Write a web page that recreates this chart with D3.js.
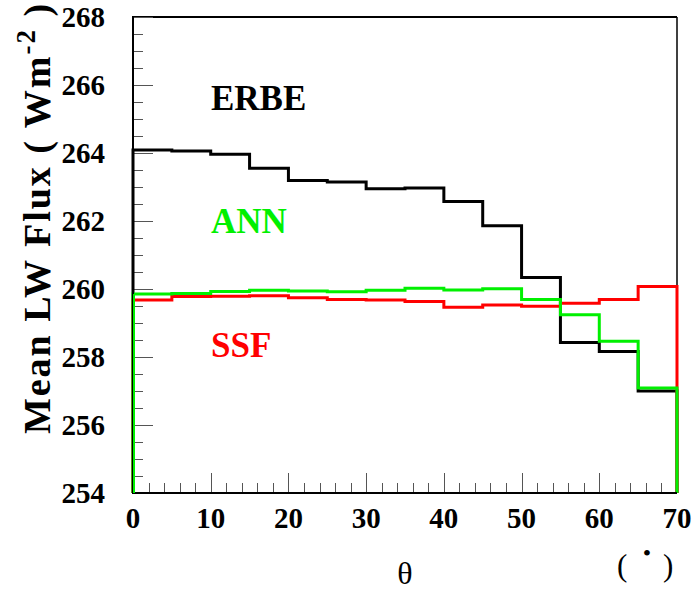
<!DOCTYPE html>
<html>
<head>
<meta charset="utf-8">
<script src="https://cdn.jsdelivr.net/npm/d3@7"></script>
<style>
  body { margin: 0; background: #fff; }
  text { font-family: "Liberation Serif", "Times New Roman", serif; }
</style>
</head>
<body>
<svg id="chart"></svg>
<script>
// bin edges (degrees), 5 degree bins
const binEdges = [0, 5, 10, 15, 20, 25, 30, 35, 40, 45, 50, 55, 60, 65, 70];
const erbe = [264.09, 264.06, 263.96, 263.55, 263.19, 263.15, 262.95, 262.97, 262.57, 261.86, 260.34, 258.43, 258.16, 257.00];
const ann  = [259.85, 259.87, 259.93, 259.96, 259.94, 259.92, 259.96, 260.02, 259.97, 260.01, 259.69, 259.24, 258.46, 257.09];
const ssf  = [259.68, 259.78, 259.79, 259.80, 259.74, 259.69, 259.68, 259.63, 259.46, 259.53, 259.49, 259.58, 259.69, 260.07];
const yTicks = [254, 256, 258, 260, 262, 264, 266, 268];
const xTicks = [0, 10, 20, 30, 40, 50, 60, 70];

const width = 695;
const height = 591;
const pLeft = 133, pRight = 677, pTop = 17, pBottom = 493;
const green = "#00f000";

let svg = d3.select("#chart").attr("width", width).attr("height", height);

const x = d3.scaleLinear().domain([0, 70]).range([pLeft, pRight]);
const y = d3.scaleLinear().domain([254, 268]).range([pBottom, pTop]);

// ==================== frame =====================
svg.append("line").attr("x1", pLeft).attr("x2", pRight).attr("y1", pTop).attr("y2", pTop)
    .attr("stroke", "#000").attr("stroke-width", 2);
svg.append("line").attr("x1", pRight).attr("x2", pRight).attr("y1", pTop).attr("y2", pBottom)
    .attr("stroke", "#000").attr("stroke-width", 1.5);

// ==================== y axis =====================
var yMinor = d3.range(254, 268.01, 0.5);
svg.selectAll(".ytick")
    .data(yMinor)
    .enter()
    .append("line")
    .attr("class", "ytick")
    .attr("x1", pLeft)
    .attr("x2", function (d) {
        return Math.abs(d % 2) < 1e-6 ? pLeft + 20 : pLeft + 10;
    })
    .attr("y1", function (d) { return Math.round(y(d)) + 0.5; })
    .attr("y2", function (d) { return Math.round(y(d)) + 0.5; })
    .attr("stroke", "#555")
    .attr("stroke-width", 1);

svg.selectAll(".ylabel")
    .data(yTicks)
    .enter()
    .append("text")
    .attr("class", "ylabel")
    .attr("x", 105)
    .attr("y", function (d) { return y(d) + 10; })
    .attr("text-anchor", "end")
    .attr("font-size", 29)
    .attr("font-weight", "bold")
    .text(function (d) { return d; });

// ==================== x axis =====================
var xMinor = d3.range(0, 70.01, 2);
svg.selectAll(".xtick")
    .data(xMinor)
    .enter()
    .append("line")
    .attr("class", "xtick")
    .attr("x1", function (d) { return Math.round(x(d)) + 0.5; })
    .attr("x2", function (d) { return Math.round(x(d)) + 0.5; })
    .attr("y1", pBottom)
    .attr("y2", function (d) {
        return d % 10 === 0 ? pBottom - 20 : pBottom - 10;
    })
    .attr("stroke", "#555")
    .attr("stroke-width", 1);

svg.selectAll(".xlabel")
    .data(xTicks)
    .enter()
    .append("text")
    .attr("class", "xlabel")
    .attr("x", function (d) { return x(d); })
    .attr("y", 528)
    .attr("text-anchor", "middle")
    .attr("font-size", 29)
    .attr("font-weight", "bold")
    .text(function (d) { return d; });

// ==================== histograms =====================
function histPoints(vals) {
    let pts = [[0, 254]];
    vals.forEach(function (v, i) {
        pts.push([binEdges[i], v]);
    });
    pts.push([70, vals[vals.length - 1]]);
    pts.push([70, 254]);
    return pts;
}

const step = d3.line()
    .x(function (d) { return x(d[0]); })
    .y(function (d) { return y(d[1]); })
    .curve(d3.curveStepAfter);

var series = [
    {vals: erbe, color: "#000000"},
    {vals: ssf, color: "#ff0000"},
    {vals: ann, color: green}
];
series.forEach(function (s) {
    svg.append("path")
        .attr("d", step(histPoints(s.vals)))
        .attr("fill", "none")
        .attr("stroke", s.color)
        .attr("stroke-width", 3);
});

// axis lines on top
svg.append("line").attr("x1", pLeft).attr("x2", pLeft).attr("y1", pTop - 1).attr("y2", pBottom + 1)
    .attr("stroke", "#000").attr("stroke-width", 2);
svg.append("line").attr("x1", pLeft).attr("x2", pRight).attr("y1", pBottom).attr("y2", pBottom)
    .attr("stroke", "#000").attr("stroke-width", 2);
// green edge over left axis as in the picture
svg.append("line").attr("x1", pLeft + 1).attr("x2", pLeft + 1).attr("y1", y(ann[0])).attr("y2", pBottom)
    .attr("stroke", green).attr("stroke-width", 2);

// ==================== labels =====================
var labels = [
    {text: "ERBE", color: "#000000", ly: 110},
    {text: "ANN", color: green, ly: 233},
    {text: "SSF", color: "#ff0000", ly: 357}
];
svg.selectAll(".legend")
    .data(labels)
    .enter()
    .append("text")
    .attr("class", "legend")
    .attr("x", 211)
    .attr("y", function (d) { return d.ly; })
    .attr("font-size", 35)
    .attr("font-weight", "bold")
    .attr("fill", function (d) { return d.color; })
    .text(function (d) { return d.text; });

// y title
var yt = svg.append("text")
    .attr("transform", "translate(50,218) rotate(-90)")
    .attr("text-anchor", "middle")
    .attr("font-size", 38)
    .attr("letter-spacing", 2)
    .attr("font-weight", "bold");
yt.append("tspan").text("Mean LW Flux ( Wm");
yt.append("tspan").attr("dy", -15).attr("font-size", 27).text("-2");
yt.append("tspan").attr("dy", 15).text(" )");

// x title
svg.append("text")
    .attr("x", 405)
    .attr("y", 584)
    .attr("text-anchor", "middle")
    .attr("font-size", 32)
    .text("θ");

svg.append("text").attr("x", 617).attr("y", 576).attr("font-size", 31).text("(");
svg.append("text").attr("x", 647).attr("y", 561).attr("text-anchor", "middle").attr("font-size", 24).text("•");
svg.append("text").attr("x", 663).attr("y", 576).attr("font-size", 31).text(")");
</script>
</body>
</html>
